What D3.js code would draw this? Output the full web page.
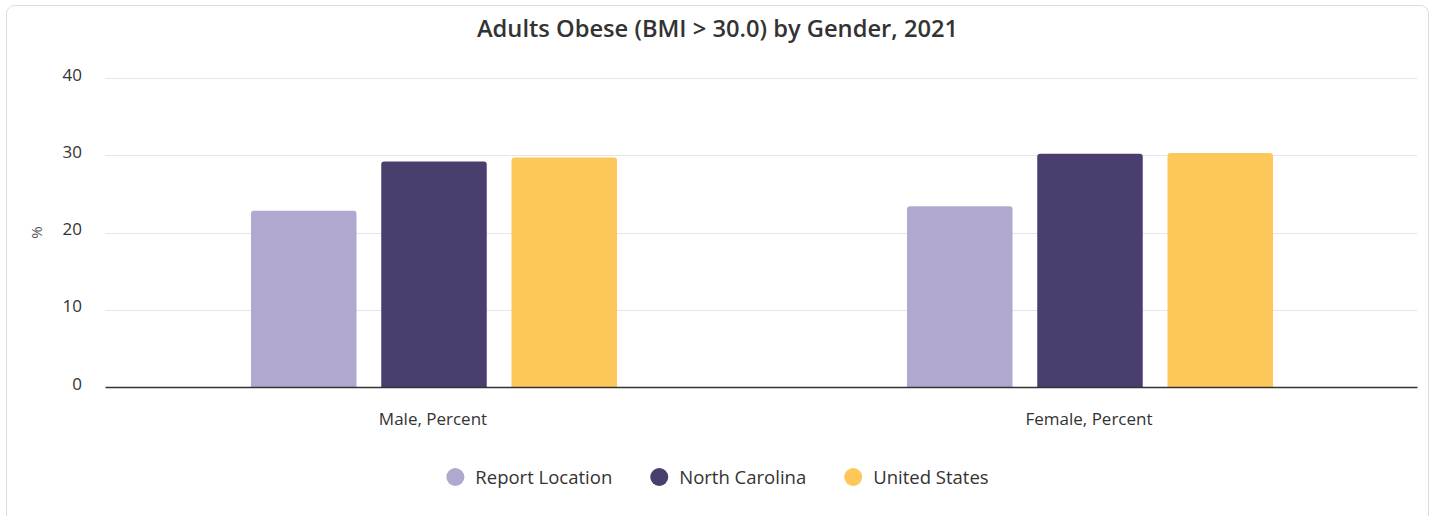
<!DOCTYPE html>
<html>
<head>
<meta charset="utf-8">
<script src="https://d3js.org/d3.v7.min.js"></script>
<style>
  body { margin: 0; background: #fff; font-family: "Open Sans", "Noto Sans", sans-serif; }
</style>
</head>
<body>
<svg id="chart" width="1435" height="516"></svg>
<script>
// data
const categories = ["Male, Percent", "Female, Percent"];
const seriesNames = ["Report Location", "North Carolina", "United States"];
const seriesColors = ["#b0a8cf", "#4a3e6f", "#fec75a"];
const reportLocation = [22.8, 23.4];
const northCarolina = [29.2, 30.2];
const unitedStates = [29.7, 30.3];
const yTicks = [0, 10, 20, 30, 40];

const values = [reportLocation, northCarolina, unitedStates];

const W = 1435, H = 516;
const margin = { top: 78, right: 18, bottom: 129, left: 105 };
const plotW = W - margin.left - margin.right;
const plotH = H - margin.top - margin.bottom;
const FONT = "Open Sans, Noto Sans, sans-serif";

const svg = d3.select("#chart");

// card
svg.append("rect")
  .attr("x", 6.5).attr("y", 5.5)
  .attr("width", W - 13).attr("height", H + 10)
  .attr("rx", 8)
  .attr("fill", "#fff")
  .attr("stroke", "#dcdcdc");

svg.append("text")
  .attr("x", W / 2).attr("y", 37)
  .attr("text-anchor", "middle")
  .attr("font-size", 23.7).attr("font-weight", 600)
  .attr("fill", "#333")
  .text("Adults Obese (BMI > 30.0) by Gender, 2021");

const g = svg.append("g").attr("transform", `translate(${margin.left},${margin.top})`);

const y = d3.scaleLinear().domain([0, 40]).range([plotH, 0]);
const x0 = d3.scaleBand().domain(categories).range([0, plotW]);
const groupPad = 146;
const x1 = d3.scaleBand().domain(seriesNames)
  .range([groupPad, x0.bandwidth() - groupPad + 2])
  .paddingInner(0.19).paddingOuter(0);

// grid
g.append("g").selectAll("line")
  .data(yTicks.filter(d => d > 0))
  .join("line")
  .attr("x1", 0).attr("x2", plotW)
  .attr("y1", d => Math.round(y(d)) + 0.5).attr("y2", d => Math.round(y(d)) + 0.5)
  .attr("stroke", "#e6e6e6");

// y axis labels
const yAxis = g.append("g")
  .call(d3.axisLeft(y).tickValues(yTicks).tickSize(0).tickPadding(23));
yAxis.select(".domain").remove();
yAxis.selectAll("text")
  .attr("font-size", 17).attr("font-family", FONT)
  .attr("fill", "#333").attr("dy", "0.12em");

svg.append("text")
  .attr("transform", `translate(42,${margin.top + y(20)}) rotate(-90)`)
  .attr("text-anchor", "middle")
  .attr("font-size", 15).attr("fill", "#555")
  .text("%");

// bars with rounded tops
function barPath(bx, by, bw, bh, r) {
  r = Math.min(r, bh);
  return `M${bx},${by + bh}V${by + r}Q${bx},${by} ${bx + r},${by}H${bx + bw - r}Q${bx + bw},${by} ${bx + bw},${by + r}V${by + bh}Z`;
}

const groups = g.selectAll(".grp")
  .data(categories)
  .join("g")
  .attr("transform", d => `translate(${x0(d)},0)`);

groups.selectAll("path")
  .data((c, ci) => seriesNames.map((s, si) => ({ s, si, v: values[si][ci] })))
  .join("path")
  .attr("fill", d => seriesColors[d.si])
  .attr("d", d => barPath(x1(d.s), y(d.v), x1.bandwidth(), plotH - y(d.v), 3));

// x axis
const xAxis = g.append("g")
  .attr("transform", `translate(0,${plotH})`)
  .call(d3.axisBottom(x0).tickSize(0).tickPadding(26));
xAxis.select(".domain").attr("stroke", "#333").attr("stroke-width", 1.5);
xAxis.selectAll("text")
  .attr("font-size", 17).attr("font-family", FONT)
  .attr("fill", "#333");

// legend
const legend = svg.append("g");
const items = legend.selectAll("g").data(seriesNames).join("g");
items.append("circle").attr("r", 9).attr("cy", 0).attr("cx", 0)
  .attr("fill", (d, i) => seriesColors[i]);
items.append("text").attr("x", 20).attr("y", 6.5)
  .attr("font-size", 18.5).attr("font-family", FONT).attr("fill", "#333")
  .text(d => d);
const gap = 38;
let off = 0;
items.each(function () {
  const w = this.getBBox().width;
  d3.select(this).attr("transform", `translate(${off},0)`);
  off += w + gap;
});
off -= gap;
legend.attr("transform", `translate(${W / 2 - off / 2 + 9},477)`);
</script>
</body>
</html>
